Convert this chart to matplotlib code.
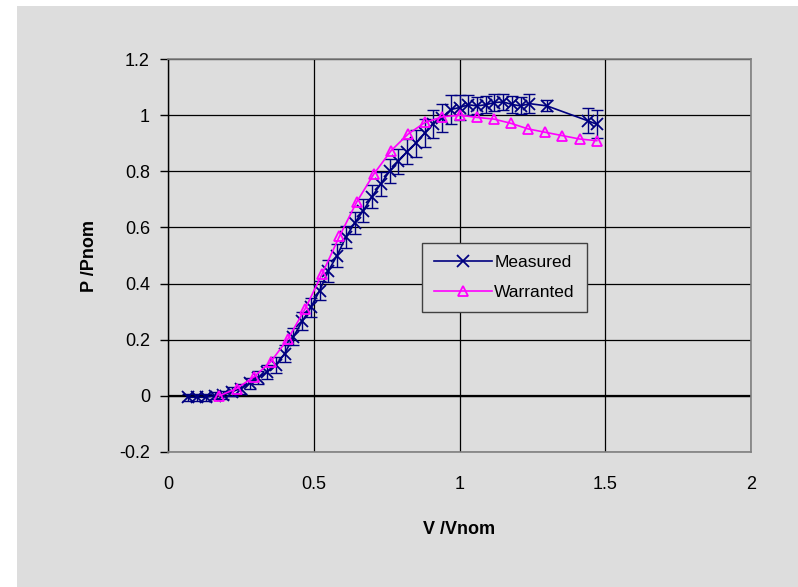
import matplotlib
matplotlib.use('Agg')
import matplotlib.pyplot as plt
from matplotlib.patches import Rectangle

plt.rcParams['font.family'] = ['Liberation Sans', 'DejaVu Sans']

# === Dados ===
v_medido = [0.07, 0.10, 0.13, 0.16, 0.19, 0.22, 0.25, 0.28, 0.31, 0.34, 0.37, 0.40,
            0.43, 0.46, 0.49, 0.52, 0.55, 0.58, 0.61, 0.64, 0.67, 0.70, 0.73, 0.76,
            0.79, 0.82, 0.85, 0.88, 0.91, 0.94, 0.97, 1.00, 1.03, 1.06, 1.09, 1.12,
            1.15, 1.18, 1.21, 1.24, 1.30, 1.44, 1.47]
p_medido = [-0.005, -0.005, -0.005, 0.0, 0.003, 0.015, 0.026, 0.045, 0.065, 0.085, 0.11, 0.15,
            0.21, 0.265, 0.315, 0.375, 0.445, 0.50, 0.565, 0.615, 0.66, 0.71, 0.755, 0.80,
            0.835, 0.87, 0.90, 0.935, 0.97, 0.99, 1.02, 1.027, 1.037, 1.033, 1.037, 1.045,
            1.047, 1.038, 1.033, 1.041, 1.033, 0.98, 0.968]
erro_medido = [0.012, 0.012, 0.012, 0.012, 0.015, 0.015, 0.018, 0.02, 0.022, 0.025, 0.028, 0.03,
               0.03, 0.032, 0.035, 0.035, 0.038, 0.04, 0.04, 0.04, 0.04, 0.04, 0.042, 0.042,
               0.045, 0.045, 0.048, 0.05, 0.05, 0.05, 0.05, 0.045, 0.035, 0.03, 0.03, 0.03,
               0.03, 0.03, 0.03, 0.035, 0.02, 0.045, 0.05]

v_garantido = [0.176, 0.235, 0.294, 0.353, 0.412, 0.471, 0.529, 0.588, 0.647, 0.706, 0.765, 0.824,
               0.882, 0.941, 1.0, 1.059, 1.118, 1.176, 1.235, 1.294, 1.353, 1.412, 1.471]
p_garantido = [0.0, 0.026, 0.067, 0.122, 0.204, 0.311, 0.435, 0.568, 0.69, 0.79, 0.873, 0.933,
               0.974, 0.994, 1.0, 0.992, 0.986, 0.971, 0.951, 0.939, 0.927, 0.915, 0.909]

x_ticks = [0, 0.5, 1, 1.5, 2]
y_ticks = [-0.2, 0, 0.2, 0.4, 0.6, 0.8, 1, 1.2]

cinza = '#dddddd'

# === Plot ===
fig = plt.figure(figsize=(7.98, 5.87), dpi=100)
fig.patch.set_facecolor('white')
fig.patches.append(Rectangle((17 / 798, 0), 1 - 17 / 798, 1 - 6 / 587,
                             transform=fig.transFigure, facecolor=cinza,
                             edgecolor='none', zorder=-10))

ax = fig.add_axes([168 / 798, 1 - 452 / 587, 583 / 798, 393 / 587])
ax.set_facecolor(cinza)

ax.errorbar(v_medido, p_medido, yerr=erro_medido, color='#000080', fmt='none',
            elinewidth=1.0, capsize=4, capthick=1.0, zorder=3)
linha_med, = ax.plot(v_medido, p_medido, color='#000080', marker='x',
                     markersize=8, markeredgewidth=1.3, linewidth=1.2,
                     label='Measured', zorder=3)
linha_gar, = ax.plot(v_garantido, p_garantido, color='#ff00ff', marker='^', markersize=7,
                     markerfacecolor='none', markeredgewidth=1.3, linewidth=1.2,
                     label='Warranted', zorder=4)

ax.set_xlim(0, 2)
ax.set_ylim(-0.2, 1.2)
ax.set_xticks(x_ticks)
ax.set_xticklabels(['0', '0.5', '1', '1.5', '2'])
ax.set_yticks(y_ticks)
ax.set_yticklabels(['-0.2', '0', '0.2', '0.4', '0.6', '0.8', '1', '1.2'])

ax.grid(True, color='black', linewidth=0.9)
ax.set_axisbelow(True)
ax.axhline(0, color='black', linewidth=1.6, zorder=2)

for lado in ['top', 'right', 'bottom']:
    ax.spines[lado].set_color('#808080')
    ax.spines[lado].set_linewidth(1.2)
ax.spines['left'].set_color('black')
ax.spines['left'].set_linewidth(1.0)

ax.tick_params(axis='x', length=0, pad=17, labelsize=13)
ax.tick_params(axis='y', length=6, width=1, direction='out', pad=7, labelsize=13)

ax.set_xlabel('V /Vnom', fontsize=13, fontweight='bold')
ax.xaxis.set_label_coords(0.5, -0.175)
ax.set_ylabel('P /Pnom', fontsize=13, fontweight='bold')
ax.yaxis.set_label_coords(-0.12, 0.5)

leg = ax.legend(handles=[linha_med, linha_gar], loc='lower left',
                bbox_to_anchor=(0.436, 0.356), borderaxespad=0,
                fontsize=12.5, frameon=True, fancybox=False, handlelength=3.3,
                handletextpad=0.15, labelspacing=0.85, borderpad=0.7)
leg.get_frame().set_facecolor(cinza)
leg.get_frame().set_edgecolor('#404040')
leg.get_frame().set_linewidth(1.0)
leg.get_frame().set_alpha(1)

plt.savefig('out.png', dpi=100)
plt.close()
